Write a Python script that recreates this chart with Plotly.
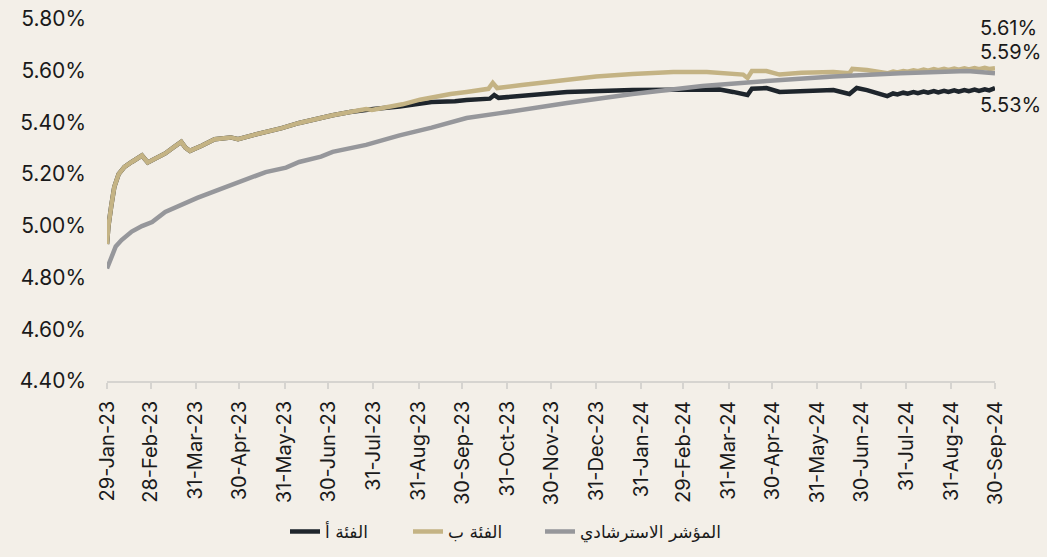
import plotly.graph_objects as go

# ---- data (values in %) ----
dates_b = ["2023-01-29","2023-01-30","2023-02-01","2023-02-03","2023-02-06","2023-02-10","2023-02-15",
           "2023-02-22","2023-02-26","2023-03-03","2023-03-10","2023-03-16","2023-03-21","2023-03-24",
           "2023-03-27","2023-04-04","2023-04-13","2023-04-24","2023-04-29","2023-05-10","2023-05-20",
           "2023-05-29","2023-06-10","2023-06-20","2023-07-03","2023-07-15","2023-07-26","2023-07-30",
           "2023-08-10","2023-08-20","2023-09-01","2023-09-10","2023-09-22","2023-10-03","2023-10-18",
           "2023-10-21","2023-10-24","2023-11-10","2023-11-27","2023-12-11","2023-12-31","2024-01-25",
           "2024-02-22","2024-03-16","2024-04-03","2024-04-10","2024-04-13","2024-04-16","2024-04-26",
           "2024-05-05","2024-05-20","2024-06-11","2024-06-22","2024-06-24","2024-07-04","2024-07-18",
           "2024-07-22","2024-07-25","2024-07-29","2024-08-01","2024-08-05","2024-08-08","2024-08-12",
           "2024-08-15","2024-08-19","2024-08-22","2024-08-26","2024-08-29","2024-09-02","2024-09-05",
           "2024-09-09","2024-09-12","2024-09-16","2024-09-19","2024-09-23","2024-09-26","2024-09-30"]
class_b = [4.93,5.00,5.08,5.15,5.20,5.228,5.247,
           5.272,5.245,5.258,5.28,5.305,5.325,5.302,
           5.29,5.31,5.335,5.342,5.335,5.352,5.365,
           5.378,5.398,5.412,5.428,5.44,5.452,5.448,
           5.46,5.47,5.488,5.498,5.51,5.518,5.53,
           5.553,5.533,5.545,5.556,5.568,5.578,5.587,
           5.595,5.595,5.587,5.585,5.572,5.599,5.599,
           5.585,5.592,5.595,5.59,5.607,5.603,5.59,
           5.597,5.593,5.599,5.596,5.602,5.598,5.604,
           5.600,5.606,5.602,5.607,5.603,5.608,5.604,
           5.609,5.605,5.61,5.606,5.611,5.607,5.61]

dates_a = ["2023-01-29","2023-01-30","2023-02-01","2023-02-03","2023-02-06","2023-02-10","2023-02-15",
           "2023-02-22","2023-02-26","2023-03-03","2023-03-10","2023-03-16","2023-03-21","2023-03-24",
           "2023-03-27","2023-04-04","2023-04-13","2023-04-24","2023-04-29","2023-05-10","2023-05-20",
           "2023-05-29","2023-06-10","2023-06-20","2023-07-03","2023-07-15","2023-07-26","2023-07-31",
           "2023-08-18","2023-09-09","2023-09-25","2023-10-03","2023-10-19","2023-10-22","2023-10-25",
           "2023-11-27","2023-12-11","2024-01-25","2024-03-16","2024-03-25","2024-04-03","2024-04-13",
           "2024-04-16","2024-04-26","2024-05-05","2024-05-20","2024-06-11","2024-06-22","2024-06-27",
           "2024-07-04","2024-07-18","2024-07-22","2024-07-25","2024-07-29","2024-08-01","2024-08-05",
           "2024-08-08","2024-08-12","2024-08-15","2024-08-19","2024-08-22","2024-08-26","2024-08-29",
           "2024-09-02","2024-09-05","2024-09-09","2024-09-12","2024-09-16","2024-09-19","2024-09-23",
           "2024-09-26","2024-09-30"]
class_a = [4.93,5.00,5.08,5.15,5.20,5.228,5.247,
           5.272,5.245,5.258,5.28,5.305,5.325,5.302,
           5.29,5.31,5.335,5.342,5.335,5.352,5.365,
           5.378,5.398,5.412,5.428,5.44,5.45,5.452,
           5.462,5.479,5.482,5.487,5.492,5.506,5.495,
           5.514,5.518,5.525,5.53,5.527,5.518,5.506,
           5.53,5.533,5.518,5.522,5.525,5.51,5.533,
           5.525,5.502,5.512,5.508,5.515,5.511,5.517,
           5.513,5.519,5.515,5.521,5.516,5.522,5.518,
           5.524,5.519,5.525,5.521,5.527,5.522,5.528,
           5.524,5.533]

dates_i = ["2023-01-29","2023-02-01","2023-02-04","2023-02-08","2023-02-15","2023-02-22","2023-03-01",
           "2023-03-10","2023-03-20","2023-04-01","2023-04-15","2023-04-25","2023-05-10","2023-05-18",
           "2023-06-01","2023-06-10","2023-06-25","2023-07-03","2023-07-26","2023-08-18","2023-09-09",
           "2023-10-03","2023-10-26","2023-11-27","2023-12-11","2024-01-25","2024-03-13","2024-04-26",
           "2024-06-11","2024-07-27","2024-09-11","2024-09-30"]
index_bm = [4.835,4.88,4.92,4.945,4.978,4.999,5.015,
            5.054,5.08,5.108,5.138,5.16,5.19,5.208,
            5.225,5.247,5.268,5.286,5.313,5.35,5.38,
            5.417,5.436,5.464,5.475,5.51,5.541,5.56,
            5.578,5.59,5.599,5.59]

tick_vals = ["2023-01-29","2023-02-28","2023-03-31","2023-04-30","2023-05-31","2023-06-30","2023-07-31",
             "2023-08-31","2023-09-30","2023-10-31","2023-11-30","2023-12-31","2024-01-31","2024-02-29",
             "2024-03-31","2024-04-30","2024-05-31","2024-06-30","2024-07-31","2024-08-31","2024-09-30"]
tick_text = ["29-Jan-23","28-Feb-23","31-Mar-23","30-Apr-23","31-May-23","30-Jun-23","31-Jul-23",
             "31-Aug-23","30-Sep-23","31-Oct-23","30-Nov-23","31-Dec-23","31-Jan-24","29-Feb-24",
             "31-Mar-24","30-Apr-24","31-May-24","30-Jun-24","31-Jul-24","31-Aug-24","30-Sep-24"]
y_ticks = [4.4,4.6,4.8,5.0,5.2,5.4,5.6,5.8]

names = ["الفئة أ", "الفئة ب", "المؤشر الاسترشادي"]
colors = ["#1E252C", "#C4B384", "#96979B"]

BG = "#F3EFE8"
FONT = "Inter"
TXT = "#1a1a1a"

fig = go.Figure()
series = [(dates_a, class_a), (dates_b, class_b), (dates_i, index_bm)]
legend_ids = ["legend", "legend2", "legend3"]
for (d, v), nm, col, lg in zip(series, names, colors, legend_ids):
    fig.add_trace(go.Scatter(x=d, y=v, mode="lines", name=nm, legend=lg,
                             line=dict(color=col, width=4.5)))

# end labels
ends = [(dates_b[-1], class_b[-1], 40), (dates_i[-1], index_bm[-1], 21), (dates_a[-1], class_a[-1], -17)]
for d, v, ys in ends:
    fig.add_annotation(x=d, y=v, text=f"{v:.2f}%", showarrow=False, xanchor="left",
                       xshift=-17, yshift=ys, font=dict(family=FONT, size=20, color=TXT))

leg_common = dict(orientation="h", xref="container", yref="container", xanchor="left",
                  y=0.045, yanchor="middle", bgcolor="rgba(0,0,0,0)",
                  font=dict(family="DejaVu Sans", size=17, color=TXT))
fig.update_layout(
    width=1047, height=557,
    paper_bgcolor=BG, plot_bgcolor=BG,
    margin=dict(l=107, r=52, t=19, b=176, autoexpand=False),
    showlegend=True,
    legend=dict(x=285 / 1047, **leg_common),
    legend2=dict(x=408 / 1047, **leg_common),
    legend3=dict(x=540 / 1047, **leg_common),
    font=dict(family=FONT, color=TXT),
)
fig.update_xaxes(type="date", range=["2023-01-29", "2024-09-30"], tickmode="array",
                 tickvals=tick_vals, ticktext=tick_text, tickangle=-90,
                 tickfont=dict(family=FONT, size=20, color=TXT),
                 showgrid=False, showline=True, linecolor="#D6D4D0", linewidth=2,
                 ticks="outside", ticklen=6, tickcolor="#D6D4D0", tickwidth=2, zeroline=False,
                 ticklabelstandoff=4, automargin=False)
fig.update_yaxes(range=[4.4, 5.8], tickmode="array", tickvals=y_ticks,
                 ticktext=[f"{v:.2f}%" for v in y_ticks],
                 tickfont=dict(family=FONT, size=21, color=TXT),
                 showgrid=False, showline=False, zeroline=False, ticks="", ticklabelstandoff=20,
                 automargin=False)

fig.write_html("out.html", config={"displayModeBar": False},
               post_script="document.body.style.margin='0';document.body.style.background='%s';" % BG)
